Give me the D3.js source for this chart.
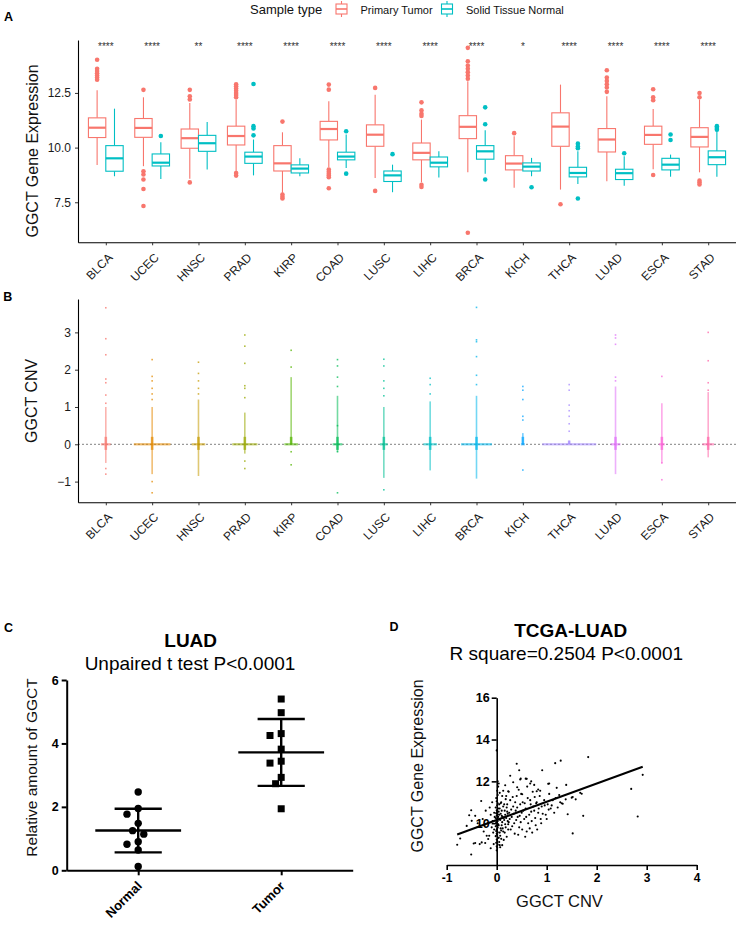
<!DOCTYPE html>
<html><head><meta charset="utf-8">
<script src="https://cdn.jsdelivr.net/npm/d3@7"></script>
<style>
body{margin:0;background:#fff}
svg{display:block}
text{font-family:"Liberation Sans",Arial,Helvetica,sans-serif}
</style>
</head><body>
<svg id="c" width="736" height="926"></svg>
<script>
// ---------------- DATA ----------------
const cancerTypes = ["BLCA","UCEC","HNSC","PRAD","KIRP","COAD","LUSC","LIHC","BRCA","KICH","THCA","LUAD","ESCA","STAD"];
const sigLabels = ["****","****","**","****","****","****","****","****","****","*","****","****","****","****"];
// [lower whisker, Q1, median, Q3, upper whisker]
const tumorStats = [
  [9.21,10.46,10.91,11.36,12.62],[9.15,10.47,10.90,11.33,12.30],[8.58,9.97,10.43,10.85,12.04],
  [8.92,10.12,10.53,10.98,12.20],[7.93,8.93,9.28,10.09,10.70],[9.10,10.35,10.85,11.20,12.12],
  [8.61,10.06,10.59,11.04,12.42],[8.41,9.44,9.76,10.21,11.28],[8.87,10.41,10.95,11.46,13.03],
  [8.16,8.98,9.27,9.63,10.52],[8.08,10.06,10.96,11.59,12.88],[8.46,9.80,10.37,10.87,12.35],
  [9.01,10.15,10.58,10.98,11.77],[8.87,10.03,10.49,10.91,12.20]];
const tumorOutliers = [
  [14.02,13.6,13.5,13.4,13.3,13.2,13.1],[12.64,8.92,8.77,8.54,8.11,7.33],[12.64,12.35,12.2,8.41],
  [12.9,12.8,12.7,12.6,12.5,12.4,12.3,8.84,8.72],[11.19,7.85,7.75,7.67],[12.88,12.65,9.0,8.9,8.8,8.72,8.65,8.14],
  [12.73,8.02],[12.07,11.7,11.55,11.45,8.3,8.2],[14.56,13.95,13.75,13.6,13.45,13.3,13.15,6.11],
  [10.66],[7.41],[13.54,13.2,13.05,12.9,12.75,12.55],[12.67,12.3,12.17,8.75],[12.5,12.3,8.49,8.4,8.31]];
const normalStats = [
  [8.69,8.92,9.51,10.09,11.78],[8.57,9.16,9.31,9.71,10.24],[9.00,9.83,10.20,10.56,11.17],
  [8.73,9.28,9.59,9.79,10.37],[8.69,8.84,9.04,9.21,9.51],[9.07,9.44,9.59,9.79,10.60],
  [7.96,8.45,8.73,8.93,9.22],[8.63,9.12,9.31,9.57,9.83],[8.81,9.47,9.83,10.09,10.79],
  [8.69,8.93,9.13,9.30,9.53],[8.34,8.66,8.84,9.10,9.83],[8.26,8.54,8.83,9.01,9.60],
  [8.67,8.98,9.22,9.51,9.68],[8.67,9.22,9.56,9.85,10.75]];
const normalOutliers = [
  [],[10.53],[],[12.91,10.98,10.87,10.56],[],[10.75,8.81],[9.7],[],[11.84,11.07,8.54],
  [8.19],[10.18,10.05,9.97,7.67],[9.74],[10.6,10.35],[10.98,10.9,10.82]];
const exprTicks = [7.5, 10.0, 12.5];
const sampleTypes = ["Primary Tumor","Solid Tissue Normal"];

// Panel B: CNV per cancer type
const cnvDenseLo = [-0.5,-0.8,-0.85,-0.25,0,-0.2,-0.9,-0.7,-0.92,0,0,-0.8,-0.5,-0.35];
const cnvDenseHi = [1.0,1.0,1.2,0.85,1.8,1.3,1.0,1.15,1.3,0.3,0.1,1.55,1.1,1.4];
const cnvZeroCount = [40,180,60,120,60,40,30,60,150,10,270,40,20,50];
const cnvPoints = [
  [3.66,2.83,2.4,1.75,1.65,1.32,1.1,-0.65,-0.8],
  [2.27,1.82,1.7,1.5,1.35,1.2,-1.0,-1.3],
  [2.2,1.9,1.7,1.5,1.35],
  [2.93,2.63,2.17,1.57,1.5,1.25,-0.45,-0.65],
  [2.52,2.07,-0.2,-0.55],
  [2.27,2.1,1.8,1.55,0.5,-0.2,-1.3],
  [2.28,2.1,1.7,1.5,1.3,-1.22],
  [1.77,1.6,1.35],
  [3.67,2.8,2.75,2.35,1.85,1.6],
  [1.55,1.45,1.2,0.75,0.65,-0.69],
  [1.6,1.45,1.05,0.9,0.75,0.55,0.35],
  [2.93,2.85,2.68,1.8,1.7],
  [1.82,-0.5,-0.95],
  [3.0,2.24,1.65,1.45]];
const cnvTicks = [-1,0,1,2,3];
const huePalette = ["#F8766D","#E38900","#C49A00","#99A800","#53B400","#00BC56","#00C094","#00BFC4","#00B6EB","#06A4FF","#A58AFF","#DF70F8","#FB61D7","#FF66A8"];

// Panel C: qPCR
const qpcrGroups = ["Normal","Tumor"];
const qpcrNormal = [2.47,1.95,1.77,1.48,1.25,1.14,0.90,0.82,0.64,0.12];
const qpcrTumor = [5.40,4.97,4.31,4.25,3.82,3.44,3.38,2.93,2.73,1.94];
const qpcrTicks = [0,2,4,6];

// Panel D: TCGA-LUAD scatter [CNV, expression]
const luadScatter = [
 [0,13.48],[0.01,11.55],[0.02,11.35],[-0.01,11.2],[0.0,11.05],[0.02,10.95],[0.01,10.85],[-0.02,10.75],[0.03,10.7],[0.0,10.62],
 [0.01,10.55],[-0.01,10.48],[0.02,10.42],[0.0,10.36],[0.03,10.3],[-0.02,10.25],[0.01,10.2],[0.0,10.15],[0.02,10.1],[-0.01,10.05],
 [0.01,10.0],[0.03,9.95],[0.0,9.9],[-0.02,9.85],[0.02,9.8],[0.01,9.74],[0.0,9.68],[-0.01,9.62],[0.02,9.56],[0.0,9.5],
 [0.01,9.44],[-0.02,9.38],[0.03,9.3],[0.0,9.22],[0.01,9.15],[-0.01,9.06],[0.02,8.98],[0.0,8.9],[0.01,8.82],[0.0,8.7],
 [0.04,9.9],[0.05,10.4],[0.04,9.3],[0.05,10.9],[-0.04,10.3],[-0.05,9.7],[0.06,9.55],[0.07,10.15],[0.06,8.95],[0.08,9.75],
 [0.1,10.6],[0.12,10.3],[0.15,10.9],[0.1,9.9],[0.13,9.6],[0.17,10.4],[0.2,10.75],[0.22,10.1],[0.18,9.8],[0.25,10.5],
 [0.27,11.1],[0.3,10.3],[0.28,9.7],[0.33,10.8],[0.35,10.0],[0.38,10.6],[0.4,11.3],[0.42,10.3],[0.45,9.8],[0.47,10.9],
 [0.5,10.5],[0.52,11.0],[0.55,10.2],[0.58,10.7],[0.6,9.6],[0.62,11.2],[0.65,10.4],[0.68,10.9],[0.7,10.1],[0.72,11.5],
 [0.75,10.6],[0.78,9.9],[0.8,11.0],[0.83,10.5],[0.86,11.3],[0.88,10.2],[0.9,10.8],[0.95,11.1],[0.98,10.4],[1.02,10.9],
 [1.05,11.4],[1.08,10.7],[1.12,11.1],[1.15,10.5],
 [0.08,10.45],[0.09,11.0],[0.11,10.05],[0.14,10.25],[0.16,9.55],[0.19,11.3],[0.21,10.55],[0.23,9.95],[0.24,11.5],[0.26,10.2],
 [0.29,10.65],[0.31,9.85],[0.32,11.25],[0.34,10.45],[0.36,9.5],[0.37,11.0],[0.39,10.15],[0.41,10.75],[0.43,9.45],[0.44,11.6],
 [0.46,10.35],[0.48,10.05],[0.49,11.4],[0.51,9.7],[0.53,10.6],[0.56,10.95],[0.57,9.35],[0.59,10.3],[0.61,11.75],[0.63,10.0],
 [0.66,9.75],[0.67,11.1],[0.69,10.55],[0.71,9.55],[0.73,10.8],[0.76,11.25],[0.77,10.25],[0.79,10.95],[0.81,9.7],[0.84,10.7],
 [0.87,11.55],[0.89,10.0],[0.92,10.45],[0.96,10.85],[1.0,10.2],[1.04,10.65],[1.1,10.85],[1.18,11.2],[1.22,10.75],[1.25,11.35],[1.3,10.95],
 [0.05,10.2],[0.06,10.7],[0.07,9.4],[0.08,10.95],[0.09,9.65],[0.1,10.35],[0.11,11.3],[0.12,9.75],[0.13,10.8],[0.14,9.2],
 [0.15,10.15],[0.16,10.6],[0.17,9.95],[0.18,11.15],[0.19,10.25],[0.2,9.35],[0.21,10.9],[0.22,10.45],[0.23,9.7],[0.24,10.05],
 [0.06,11.45],[0.04,10.55],[0.03,11.75],[0.05,9.1],[0.07,8.85],[0.09,9.25],[0.11,8.95],[0.13,11.55],[0.02,12.0],[0.04,11.9],
 [-0.05,10.5],[-0.08,10.1],[-0.1,9.8],[-0.12,10.4],[-0.15,9.4],[-0.17,9.24],[-0.2,9.4],[-0.22,10.6],[-0.23,9.05],[-0.25,9.9],
 [-0.28,10.2],[-0.31,11.06],[-0.33,9.87],[-0.34,9.0],[-0.3,9.08],[-0.38,10.0],[-0.43,9.05],[-0.43,10.35],[-0.46,9.03],[-0.5,10.11],
 [-0.51,10.62],[-0.51,8.5],[-0.55,10.38],[-0.6,9.87],[-0.73,9.27],[-0.79,8.97],[-0.06,9.0],[-0.09,11.0],[-0.12,8.8],[-0.07,9.55],
 [-0.14,10.75],[-0.18,10.0],[-0.26,9.6],
 [0.27,12.27],[0.4,12.84],[0.45,12.53],[0.47,12.09],[0.6,12.12],[0.67,11.9],[0.83,11.61],[0.91,12.53],[1.05,11.9],[1.17,12.87],
 [1.2,11.69],[1.28,12.99],[1.39,11.83],[1.5,11.22],[1.27,11.0],[1.42,10.43],[1.52,9.51],[1.67,11.45],[1.73,10.35],[1.83,13.16],
 [2.69,11.64],[2.82,10.32],[2.92,12.31],[0.33,11.96],[0.17,11.81],[0.41,11.72],[0.51,11.38],[0.8,11.53],[0.75,11.83],[0.48,12.13],
 [0.58,12.13],[0.69,12.0],[1.03,11.88],[0.23,11.53],[1.52,11.25],[1.58,11.14],[1.38,11.14],[1.32,10.93],[1.7,11.41]];
const luadFit = {intercept: 10.15, slope: 0.873};
const scatterXTicks = [-1,0,1,2,3,4];
const scatterYTicks = [10,12,14,16];

// ---------------- DRAW ----------------
const svg = d3.select("#c");
const tumorCol = "#F8766D", normalCol = "#00BFC4";

function styleAxis(g, fs, weight, col){
  g.select(".domain").attr("stroke","#000");
  g.selectAll(".tick line").attr("stroke","#333");
  g.selectAll(".tick text").attr("font-size",fs).attr("font-weight",weight||"normal")
    .attr("fill",col||"#1a1a1a").attr("font-family","'Liberation Sans',Arial,sans-serif");
}
function panelLabel(t,x,y){
  svg.append("text").attr("x",x).attr("y",y).attr("font-size",12.5).attr("font-weight","bold").text(t);
}

// ===== Panel A =====
const xA = d3.scalePoint().domain(cancerTypes).range([78,736]).padding(0.6);
const yA = d3.scaleLinear().domain([5.67,14.92]).range([242.3,40]);
const stepA = xA.step(), boxW = stepA*0.375, dodge = stepA*0.1875;

const gAy = svg.append("g").attr("transform","translate(78,0)")
  .call(d3.axisLeft(yA).tickValues(exprTicks).tickFormat(d3.format(".1f")).tickSize(3).tickPadding(4).tickSizeOuter(0));
styleAxis(gAy,12);
gAy.select(".domain").attr("stroke-width",1.1);
const gAx = svg.append("g").attr("transform","translate(0,242.3)")
  .call(d3.axisBottom(xA).tickSize(3).tickSizeOuter(0));
styleAxis(gAx,12);
gAx.select(".domain").attr("stroke-width",1.1);
gAx.selectAll(".tick text").attr("x",0).attr("y",0).attr("dy",0).attr("text-anchor","end")
  .attr("transform","translate(7,16) rotate(-45)");

svg.append("text").attr("transform","translate(38,151) rotate(-90)").attr("text-anchor","middle")
  .attr("font-size",16).attr("fill","#111").text("GGCT Gene Expression");

function drawBox(cx, st, outs, color){
  const [lo,q1,med,q3,hi] = st;
  const g = svg.append("g");
  g.append("line").attr("x1",cx).attr("x2",cx).attr("y1",yA(hi)).attr("y2",yA(q3)).attr("stroke",color).attr("stroke-width",1.1);
  g.append("line").attr("x1",cx).attr("x2",cx).attr("y1",yA(q1)).attr("y2",yA(lo)).attr("stroke",color).attr("stroke-width",1.1);
  g.append("rect").attr("x",cx-boxW/2).attr("y",yA(q3)).attr("width",boxW).attr("height",yA(q1)-yA(q3))
    .attr("fill","#fff").attr("stroke",color).attr("stroke-width",1.1);
  g.append("line").attr("x1",cx-boxW/2).attr("x2",cx+boxW/2).attr("y1",yA(med)).attr("y2",yA(med)).attr("stroke",color).attr("stroke-width",2.2);
  g.selectAll("circle").data(outs).join("circle").attr("cx",cx).attr("cy",d=>yA(d)).attr("r",2.3).attr("fill",color);
}
cancerTypes.forEach((c,i)=>{
  drawBox(xA(c)-dodge, tumorStats[i], tumorOutliers[i], tumorCol);
  drawBox(xA(c)+dodge, normalStats[i], normalOutliers[i], normalCol);
});
svg.append("g").selectAll("text").data(sigLabels).join("text")
  .attr("x",(d,i)=>xA(cancerTypes[i])).attr("y",yA(14.47)).attr("text-anchor","middle")
  .attr("font-size",10).attr("fill","#333").text(d=>d);

// legend
const lg = svg.append("g");
lg.append("text").attr("x",250).attr("y",14).attr("font-size",13).attr("fill","#111").text("Sample type");
[[336,tumorCol,360.5],[441.5,normalCol,466]].forEach(([kx,col,tx],i)=>{
  const k = lg.append("g");
  k.append("line").attr("x1",kx+5.5).attr("x2",kx+5.5).attr("y1",1).attr("y2",17).attr("stroke",col).attr("stroke-width",1.1);
  k.append("rect").attr("x",kx).attr("y",4).attr("width",11).attr("height",10).attr("fill","#fff").attr("stroke",col).attr("stroke-width",1.1);
  k.append("line").attr("x1",kx).attr("x2",kx+11).attr("y1",9).attr("y2",9).attr("stroke",col).attr("stroke-width",1.6);
  lg.append("text").attr("x",tx).attr("y",13.5).attr("font-size",11).attr("fill","#111").text(sampleTypes[i]);
});
panelLabel("A",4,20.7);

// ===== Panel B =====
const yB = d3.scaleLinear().domain([-1.555,3.895]).range([502.3,299]);
const zeroW = d3.scaleLinear().domain([0,270]).range([1,27]);
svg.append("line").attr("x1",78).attr("x2",736).attr("y1",yB(0)).attr("y2",yB(0))
  .attr("stroke","#9a9a9a").attr("stroke-width",1.2).attr("stroke-dasharray","2,2");
const gBy = svg.append("g").attr("transform","translate(78,0)")
  .call(d3.axisLeft(yB).tickValues(cnvTicks).tickFormat(d3.format("d")).tickSize(3).tickPadding(4).tickSizeOuter(0));
styleAxis(gBy,12);
gBy.select(".domain").attr("stroke-width",1.1);
const gBx = svg.append("g").attr("transform","translate(0,502.3)")
  .call(d3.axisBottom(xA).tickSize(3).tickSizeOuter(0));
styleAxis(gBx,12);
gBx.select(".domain").attr("stroke-width",1.1);
gBx.selectAll(".tick text").attr("x",0).attr("y",0).attr("dy",0).attr("text-anchor","end")
  .attr("transform","translate(6.5,15.5) rotate(-45)");
svg.append("text").attr("transform","translate(37.3,400.8) rotate(-90)").attr("text-anchor","middle")
  .attr("font-size",16).attr("fill","#111").text("GGCT CNV");

cancerTypes.forEach((c,i)=>{
  const cx = xA(c), col = huePalette[i], g = svg.append("g");
  g.append("rect").attr("x",cx-0.8).attr("width",1.6).attr("y",yB(cnvDenseHi[i])).attr("height",yB(cnvDenseLo[i])-yB(cnvDenseHi[i]))
    .attr("fill",col).attr("opacity",0.55);
  g.append("rect").attr("x",cx-1.3).attr("width",2.6).attr("y",yB(Math.min(0.2,cnvDenseHi[i]))).attr("height",yB(Math.max(-0.15,cnvDenseLo[i]))-yB(Math.min(0.2,cnvDenseHi[i])))
    .attr("fill",col).attr("opacity",0.7);
  const hw = zeroW(cnvZeroCount[i]);
  g.append("rect").attr("x",cx-hw).attr("width",2*hw).attr("y",yB(0)-1.1).attr("height",2.2).attr("fill",col).attr("opacity",0.6);
  g.selectAll(".p").data(cnvPoints[i]).join("rect").attr("x",cx-0.8).attr("y",d=>yB(d)-0.8)
    .attr("width",1.6).attr("height",1.6).attr("fill",col).attr("opacity",0.75);
});
panelLabel("B",3.3,300.7);

// ===== Panel C =====
const xC = d3.scalePoint().domain(qpcrGroups).range([66.7,352.7]).padding(0.5);
const yC = d3.scaleLinear().domain([0,6]).range([870.3,680]);
const gCy = svg.append("g").attr("transform","translate(66.7,0)")
  .call(d3.axisLeft(yC).tickValues(qpcrTicks).tickFormat(d3.format("d")).tickSize(5).tickPadding(3).tickSizeOuter(0));
styleAxis(gCy,12.5,"bold","#000");
gCy.selectAll(".domain,.tick line").attr("stroke","#000").attr("stroke-width",2);
const gCx = svg.append("g").attr("transform","translate(0,870.3)")
  .call(d3.axisBottom(xC).tickSize(5).tickSizeOuter(0));
styleAxis(gCx,13,"bold","#000");
gCx.selectAll(".domain,.tick line").attr("stroke","#000").attr("stroke-width",2);
gCx.selectAll(".tick text").attr("x",0).attr("y",0).attr("dy",0).attr("text-anchor","end")
  .attr("transform","translate(4,16.5) rotate(-45)");
svg.append("text").attr("transform","translate(37.3,767.5) rotate(-90)").attr("text-anchor","middle")
  .attr("font-size",15.5).attr("fill","#111").text("Relative amount of GGCT");
svg.append("text").attr("x",190.7).attr("y",647.3).attr("text-anchor","middle").attr("font-size",19).attr("font-weight","bold").text("LUAD");
svg.append("text").attr("x",190).attr("y",670).attr("text-anchor","middle").attr("font-size",19).text("Unpaired t test P<0.0001");

function swarm(vals, y, r, step){
  const order = vals.map((v,i)=>i).sort((a,b)=>vals[b]-vals[a]);
  const placed=[], offs=new Array(vals.length);
  for(const i of order){
    const py=y(vals[i]);
    for(let k=0;k<30;k++){
      const o = k===0?0:(k%2?-1:1)*Math.ceil(k/2)*step;
      if(placed.every(p=>Math.hypot(p.x-o,p.y-py)>=2*r)){offs[i]=o;placed.push({x:o,y:py});break;}
    }
  }
  return offs;
}
[[qpcrNormal,"circle"],[qpcrTumor,"square"]].forEach(([vals,shape],gi)=>{
  const cx = xC(qpcrGroups[gi]);
  const offs = swarm(vals,yC,4.1,5.6);
  const g = svg.append("g");
  vals.forEach((v,i)=>{
    if(shape==="circle") g.append("circle").attr("cx",cx+offs[i]).attr("cy",yC(v)).attr("r",3.7).attr("fill","#000");
    else g.append("rect").attr("x",cx+offs[i]-3.5).attr("y",yC(v)-3.5).attr("width",7).attr("height",7).attr("fill","#000");
  });
  const m = d3.mean(vals), sd = d3.deviation(vals);
  const step = xC.step();
  g.append("line").attr("x1",cx-step*0.3).attr("x2",cx+step*0.3).attr("y1",yC(m)).attr("y2",yC(m)).attr("stroke","#000").attr("stroke-width",2.4);
  g.append("line").attr("x1",cx).attr("x2",cx).attr("y1",yC(m+sd)).attr("y2",yC(m-sd)).attr("stroke","#000").attr("stroke-width",2.4);
  [m+sd,m-sd].forEach(v=>g.append("line").attr("x1",cx-step*0.165).attr("x2",cx+step*0.165).attr("y1",yC(v)).attr("y2",yC(v)).attr("stroke","#000").attr("stroke-width",2.4));
});
panelLabel("C",4,631.7);

// ===== Panel D =====
const xD = d3.scaleLinear().domain([-1,4]).range([446.7,696.7]);
const yD = d3.scaleLinear().domain([8,16]).range([865,697.7]);
svg.append("g").selectAll("circle").data(luadScatter).join("circle")
  .attr("cx",d=>xD(d[0])).attr("cy",d=>yD(d[1])).attr("r",1.05).attr("fill","#000");
const gDy = svg.append("g").attr("transform",`translate(${xD(0)},0)`)
  .call(d3.axisLeft(yD).tickValues(scatterYTicks).tickFormat(d3.format("d")).tickSize(5).tickPadding(2).tickSizeOuter(0));
styleAxis(gDy,12.5,"bold","#000");
gDy.selectAll(".domain,.tick line").attr("stroke","#000").attr("stroke-width",1.6);
const gDx = svg.append("g").attr("transform",`translate(0,${yD(8)})`)
  .call(d3.axisBottom(xD).tickValues(scatterXTicks).tickFormat(d=>String(d)).tickSize(5).tickPadding(3).tickSizeOuter(0));
styleAxis(gDx,12,"bold","#000");
gDx.selectAll(".domain,.tick line").attr("stroke","#000").attr("stroke-width",1.6);
const fx = d3.extent(luadScatter,d=>d[0]);
svg.append("line").attr("x1",xD(fx[0])).attr("x2",xD(fx[1]))
  .attr("y1",yD(luadFit.intercept+luadFit.slope*fx[0])).attr("y2",yD(luadFit.intercept+luadFit.slope*fx[1]))
  .attr("stroke","#000").attr("stroke-width",2);
svg.append("text").attr("x",570.7).attr("y",637.3).attr("text-anchor","middle").attr("font-size",19).attr("font-weight","bold").text("TCGA-LUAD");
svg.append("text").attr("x",566.3).attr("y",660).attr("text-anchor","middle").attr("font-size",19).text("R square=0.2504 P<0.0001");
svg.append("text").attr("x",559.5).attr("y",907).attr("text-anchor","middle").attr("font-size",16.5).attr("fill","#111").text("GGCT CNV");
svg.append("text").attr("transform","translate(423.3,766) rotate(-90)").attr("text-anchor","middle")
  .attr("font-size",16).attr("fill","#111").text("GGCT Gene Expression");
panelLabel("D",389.5,631);
</script>
</body></html>
